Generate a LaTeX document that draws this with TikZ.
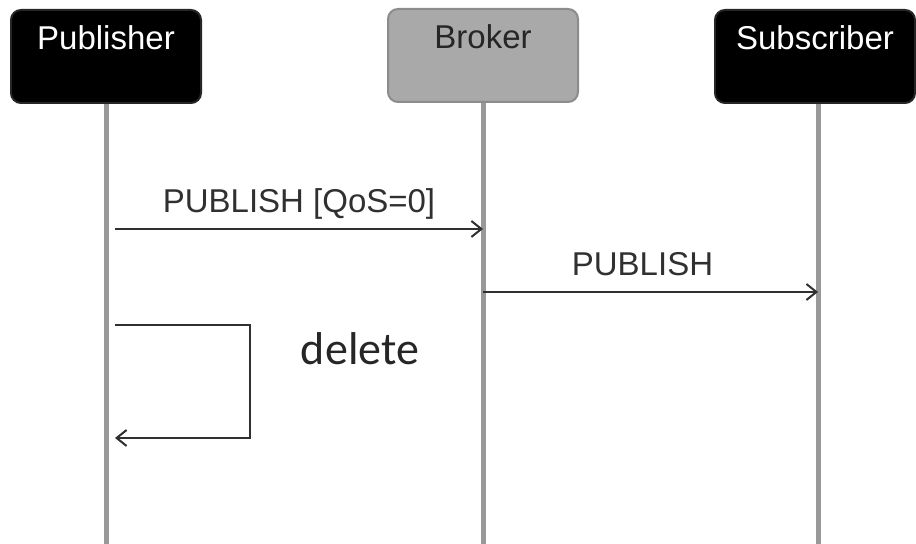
\documentclass[tikz,border=0pt]{standalone}
\usepackage{fontspec}
\setmainfont{Liberation Sans}
\newfontfamily\calfont{Carlito}
\usetikzlibrary{arrows.meta}

\definecolor{lifegray}{HTML}{989898}
\definecolor{brokergray}{HTML}{A9A9A9}
\definecolor{msggray}{HTML}{303030}

\tikzset{
  actor/.style={rectangle, rounded corners=5pt, minimum width=95pt,
    text height=12pt, text depth=18.5pt, inner ysep=8pt, line width=1pt,
    font=\fontsize{16.5}{18}\selectfont},
  lifeline/.style={draw=lifegray, line width=2.5pt},
  msg/.style={draw=msggray, line width=1pt, -{Straight Barb[length=5pt,width=8pt]}},
  msglabel/.style={anchor=base, yshift=8pt, text=msggray,
    font=\fontsize{16.5}{18}\selectfont}
}

\begin{document}
\begin{tikzpicture}[x=0.5pt, y=-0.5pt]
    \useasboundingbox (0,0) rectangle (916,544);

    % Draw lifelines
    \coordinate (pub-end) at (106,544);
    \coordinate (bro-end) at (483,544);
    \coordinate (sub-end) at (818,544);
    \draw[lifeline] (106,100) -- (pub-end);
    \draw[lifeline] (483,100) -- (bro-end);
    \draw[lifeline] (818,100) -- (sub-end);

    % Draw actors
    \node[actor, draw=black!85, fill=black, text=white] (pub) at (106,56.5) {Publisher};
    \node[actor, draw=black!45, fill=brokergray, text=black!85] (bro) at (483,55.5) {Broker};
    \node[actor, draw=black!85, fill=black, text=white, minimum width=100pt] (sub) at (815,56.5) {Subscriber};

    % Draw messages
    \coordinate (m1s) at (115,229);
    \coordinate (m1e) at (483,229);
    \coordinate (m2s) at (483,292);
    \coordinate (m2e) at (818,292);
    \draw[msg] (m1s) -- node[msglabel] {PUBLISH [QoS=0]} (m1e);
    \draw[msg] (m2s) -- node[msglabel, xshift=-4pt] {PUBLISH} (m2e);

    % Draw self message
    \coordinate (del-out) at (115,325);
    \coordinate (del-in) at (115,438);
    \draw[msg, rounded corners=0pt] (del-out) -- ++(135,0) |- (del-in);
    \node[anchor=base, text=black!85, font=\calfont\fontsize{23}{26}\selectfont] (del) at (360,365) {delete};
\end{tikzpicture}
\end{document}
